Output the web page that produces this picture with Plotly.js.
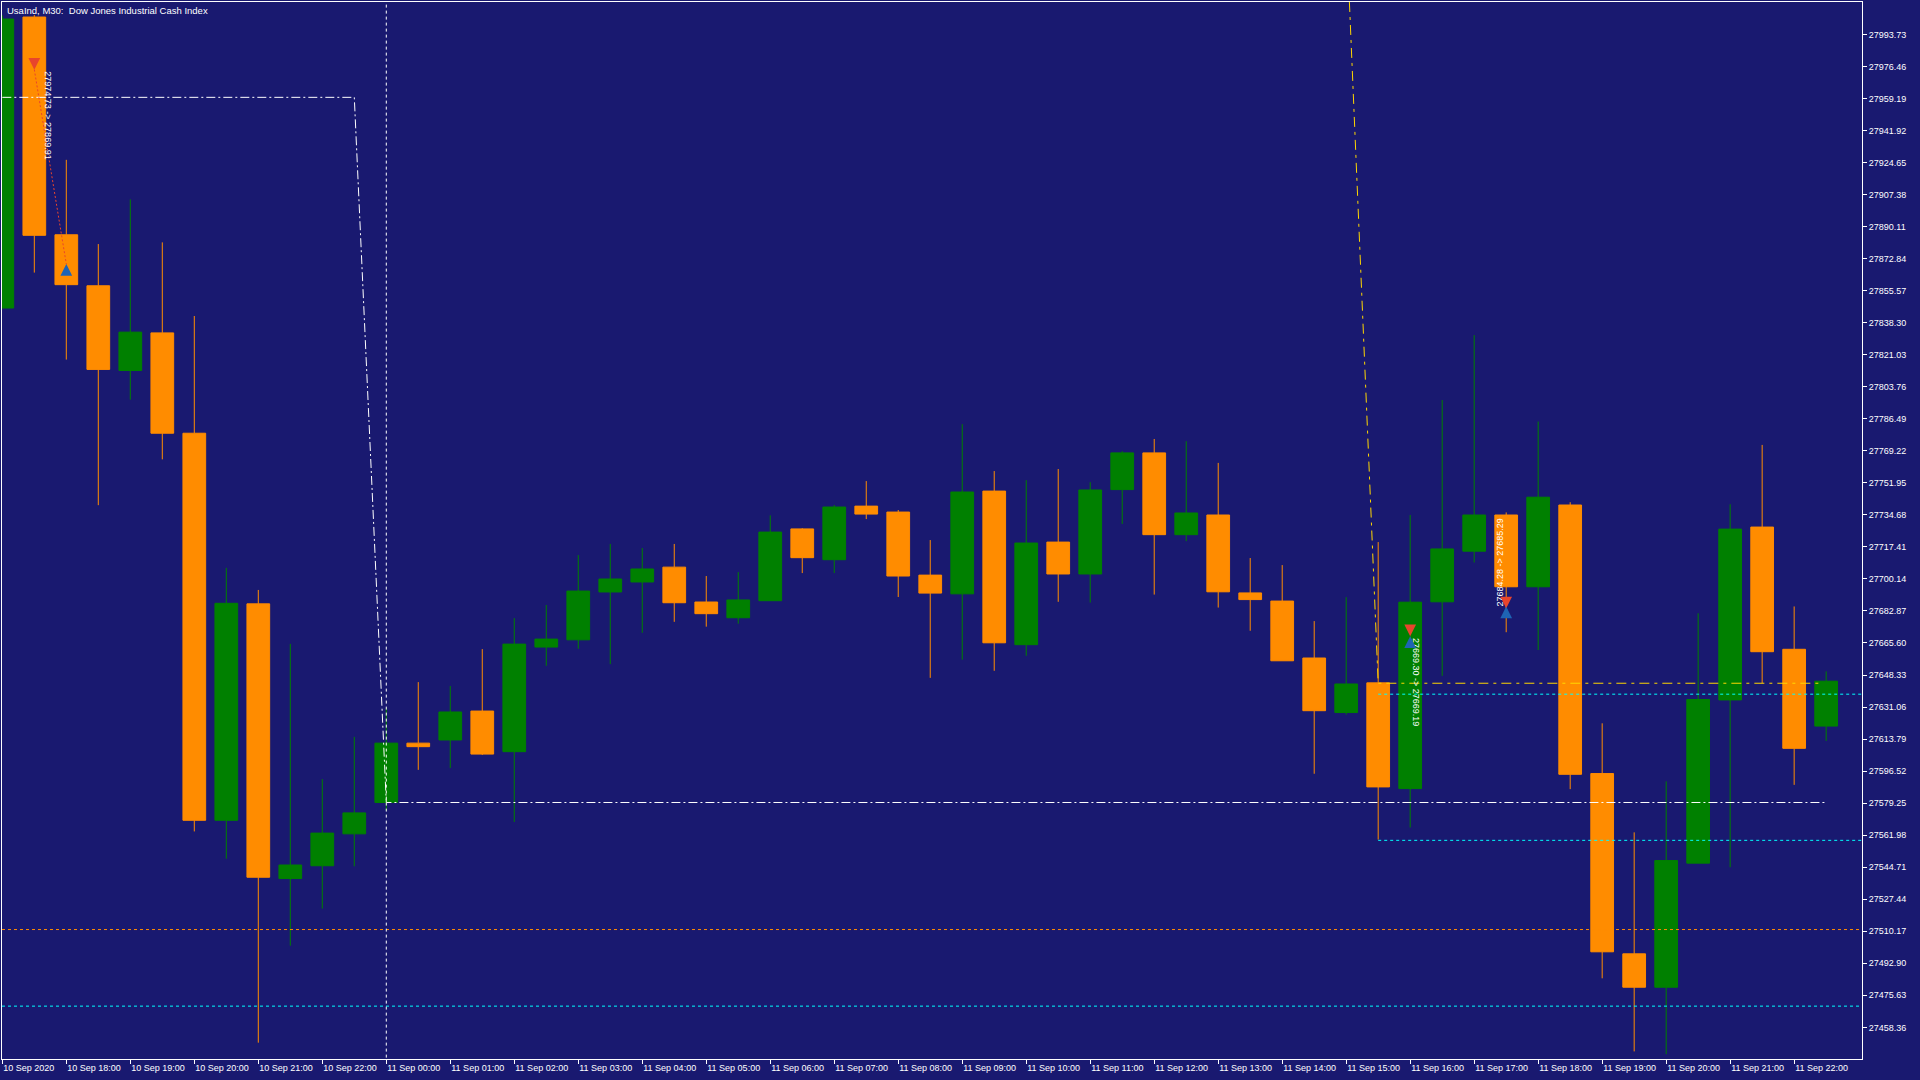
<!DOCTYPE html>
<html>
<head>
<meta charset="utf-8">
<script src="https://cdn.plot.ly/plotly-3.0.1.min.js"></script>
<style>
  html, body { margin: 0; padding: 0; background: #191970; }
  #chart { width: 1920px; height: 1080px; }
</style>
</head>
<body>
<div id="chart"></div>
<script>
// UsaInd M30: 58 barras, 10 Sep 17:00 -> 11 Sep 22:30 (hueco 23:00 por cierre diario)
const openP  = [27846.2, 28003.1, 27885.7, 27858.2, 27812.5, 27832.8, 27778.7, 27570.0, 27686.7, 27538.6,
                27545.5, 27562.7, 27579.6, 27611.6, 27613.3, 27628.9, 27607.0, 27663.4, 27667.3, 27693.1,
                27698.5, 27706.5, 27687.7, 27679.2, 27688.4, 27727.1, 27710.5, 27739.4, 27736.2, 27702.2,
                27692.1, 27747.5, 27664.7, 27720.0, 27702.8, 27748.3, 27768.1, 27724.0, 27734.6, 27692.6,
                27688.2, 27657.5, 27628.1, 27644.1, 27587.1, 27687.8, 27715.1, 27734.6, 27695.9, 27740.0,
                27595.2, 27498.0, 27480.0, 27546.9, 27634.9, 27728.1, 27662.2, 27620.8];
const highP  = [28004.0, 28004.2, 27926.1, 27880.7, 27904.8, 27881.6, 27841.9, 27706.1, 27694.2, 27665.1,
                27592.2, 27615.0, 27630.4, 27644.5, 27642.4, 27662.3, 27679.0, 27686.1, 27713.0, 27719.0,
                27716.8, 27719.0, 27701.7, 27703.8, 27734.4, 27727.5, 27740.0, 27752.9, 27737.3, 27721.1,
                27783.6, 27758.3, 27753.4, 27759.4, 27752.3, 27769.0, 27775.6, 27774.4, 27762.7, 27711.4,
                27707.6, 27677.4, 27690.3, 27720.0, 27734.6, 27796.6, 27831.6, 27736.0, 27785.0, 27741.5,
                27622.3, 27563.5, 27591.0, 27681.6, 27740.4, 27772.4, 27685.3, 27650.3];
const lowP   = [27846.2, 27865.3, 27818.4, 27739.9, 27796.8, 27764.6, 27564.0, 27549.3, 27450.1, 27502.4,
                27522.4, 27545.2, 27575.3, 27597.2, 27598.2, 27605.2, 27569.1, 27653.3, 27662.5, 27654.2,
                27671.1, 27677.0, 27674.4, 27676.0, 27688.4, 27703.3, 27703.3, 27732.4, 27690.4, 27646.8,
                27656.6, 27650.6, 27658.7, 27687.8, 27687.4, 27729.8, 27691.7, 27720.5, 27684.7, 27672.2,
                27656.0, 27595.1, 27627.0, 27559.6, 27566.1, 27647.9, 27709.0, 27671.4, 27661.8, 27586.8,
                27484.8, 27445.4, 27443.9, 27546.9, 27544.7, 27643.9, 27589.1, 27612.8];
const closeP = [28002.0, 27885.4, 27858.8, 27813.1, 27833.2, 27778.7, 27570.0, 27687.0, 27539.3, 27545.9,
                27563.1, 27574.0, 27611.6, 27609.7, 27628.4, 27605.7, 27665.0, 27667.7, 27693.6, 27700.1,
                27705.5, 27687.3, 27681.4, 27688.8, 27725.4, 27711.6, 27738.9, 27735.1, 27701.7, 27692.5,
                27747.0, 27665.7, 27719.5, 27702.8, 27748.1, 27768.1, 27724.0, 27735.7, 27693.2, 27689.0,
                27656.0, 27629.1, 27643.5, 27588.0, 27687.6, 27716.3, 27734.6, 27695.9, 27744.2, 27594.8,
                27499.1, 27480.0, 27548.3, 27635.1, 27727.0, 27660.9, 27608.8, 27645.0];

// etiquetas del eje de tiempo (una cada 2 barras)
const xTickText = ['10 Sep 2020', '10 Sep 18:00', '10 Sep 19:00', '10 Sep 20:00', '10 Sep 21:00', '10 Sep 22:00',
                   '11 Sep 00:00', '11 Sep 01:00', '11 Sep 02:00', '11 Sep 03:00', '11 Sep 04:00', '11 Sep 05:00',
                   '11 Sep 06:00', '11 Sep 07:00', '11 Sep 08:00', '11 Sep 09:00', '11 Sep 10:00', '11 Sep 11:00',
                   '11 Sep 12:00', '11 Sep 13:00', '11 Sep 14:00', '11 Sep 15:00', '11 Sep 16:00', '11 Sep 17:00',
                   '11 Sep 18:00', '11 Sep 19:00', '11 Sep 20:00', '11 Sep 21:00', '11 Sep 22:00'];
const yTickVals = [27458.36, 27475.63, 27492.90, 27510.17, 27527.44, 27544.71, 27561.98, 27579.25,
                   27596.52, 27613.79, 27631.06, 27648.33, 27665.60, 27682.87, 27700.14, 27717.41,
                   27734.68, 27751.95, 27769.22, 27786.49, 27803.76, 27821.03, 27838.30, 27855.57,
                   27872.84, 27890.11, 27907.38, 27924.65, 27941.92, 27959.19, 27976.46, 27993.73];

// operaciones (entrada -> salida)
const tradeOpenBar    = [1, 44, 47];
const tradeOpenPrice  = [27974.73, 27669.30, 27684.28];
const tradeCloseBar   = [2, 44, 47];
const tradeClosePrice = [27869.91, 27669.19, 27685.29];

// objetos del grafico
const stepLineX = [0, 11, 12, 57];
const stepLineY = [27959.8, 27959.8, 27579.6, 27579.6];
const goldLineX = [42.1, 43, 56.8];
const goldLineY = [28011.2, 27643.9, 27643.9];
const cyanLevels  = [27638.0, 27559.2, 27469.8];
const cyanStart   = [43, 43, -0.01];
const orangeLevel = 27511.1;
const daySepBar   = 12;

const X_MIN = -0.01, X_MAX = 58.12;
const BG = '#191970';
const BULL = '#008000', BEAR = '#FF8C00';
const SELL = '#E8452C', BUY = '#1E64B4';
const FONT = 'Liberation Sans';

const bars = openP.map((_, i) => i);

const traces = [];
traces.push({
  type: 'candlestick', x: bars, open: openP, high: highP, low: lowP, close: closeP,
  increasing: { line: { color: BULL, width: 1 }, fillcolor: BULL },
  decreasing: { line: { color: BEAR, width: 1 }, fillcolor: BEAR },
  whiskerwidth: 0, hoverinfo: 'skip'
});

const line = (x, y, color, dash) => ({
  type: 'scatter', mode: 'lines', x: x, y: y, hoverinfo: 'skip',
  line: { color: color, width: 1, dash: dash }
});

traces.push(line(stepLineX, stepLineY, '#FFFFFF', '9px,3px,2px,3px'));
traces.push(line(goldLineX, goldLineY, '#FFD700', '10px,5px,3px,5px'));
cyanLevels.forEach((lv, i) => traces.push(line([cyanStart[i], X_MAX], [lv, lv], '#00FFFF', '3px,3px')));
traces.push(line([X_MIN, X_MAX], [orangeLevel, orangeLevel], '#FF8C00', '3px,3px'));
traces.push(line([daySepBar, daySepBar], [27400, 28100], '#FFFFFF', '3px,3px'));

// linea punteada entre entrada y salida
tradeOpenBar.forEach((b, i) => {
  traces.push(line([b, tradeCloseBar[i]], [tradeOpenPrice[i], tradeClosePrice[i]], SELL, '2px,2px'));
});

// textos rotados de cada operacion
const textAngle = [90, 90, -90];
const textShift = [14, 6, -6];
const textAnchor = ['top', 'top', 'bottom'];
const annotations = tradeOpenBar.map((b, i) => ({
  x: b, y: tradeOpenPrice[i], xref: 'x', yref: 'y',
  text: tradeOpenPrice[i].toFixed(2) + ' -> ' + tradeClosePrice[i].toFixed(2),
  showarrow: false, textangle: textAngle[i], xanchor: 'center', yanchor: textAnchor[i],
  xshift: textShift[i], font: { family: FONT, size: 9, color: '#FFFFFF' }
}));

// flechas: entrada roja (hacia abajo), salida azul (hacia arriba)
const arrow = (x, y, color, ay) => ({
  x: x, y: y, xref: 'x', yref: 'y', text: '', showarrow: true,
  ax: 0, ay: ay, arrowhead: 2, arrowsize: 0.9, arrowwidth: 2.6, arrowcolor: color, standoff: 0
});
tradeOpenBar.forEach((b, i) => {
  annotations.push(arrow(b, tradeOpenPrice[i], SELL, -10));
  annotations.push(arrow(tradeCloseBar[i], tradeClosePrice[i], BUY, 10));
});

annotations.push({
  xref: 'paper', yref: 'paper', x: 0, y: 1, xanchor: 'left', yanchor: 'top', xshift: 3, yshift: -1,
  text: 'UsaInd, M30:\u00a0 Dow Jones Industrial Cash Index', showarrow: false,
  font: { family: FONT, size: 9.5, color: '#FFFFFF' }
});

const layout = {
  width: 1920, height: 1080,
  paper_bgcolor: BG, plot_bgcolor: BG,
  margin: { l: 2, r: 58, t: 2, b: 21 },
  showlegend: false,
  boxgap: 0.29, boxgroupgap: 0,
  xaxis: {
    range: [X_MIN, X_MAX], rangeslider: { visible: false },
    tickvals: xTickText.map((_, i) => i * 2), ticktext: xTickText,
    ticks: 'outside', ticklen: 4, tickcolor: '#FFFFFF', ticklabelposition: 'outside right',
    showgrid: false, zeroline: false,
    showline: true, mirror: true, linecolor: '#FFFFFF', linewidth: 1,
    tickfont: { family: FONT, size: 9, color: '#FFFFFF' }
  },
  yaxis: {
    side: 'right', range: [27441.3, 28011.2],
    tickvals: yTickVals, tickformat: '.2f',
    ticks: 'outside', ticklen: 4, tickcolor: '#FFFFFF',
    showgrid: false, zeroline: false,
    showline: true, mirror: true, linecolor: '#FFFFFF', linewidth: 1,
    tickfont: { family: FONT, size: 9, color: '#FFFFFF' }
  },
  annotations: annotations
};

Plotly.newPlot('chart', traces, layout, { staticPlot: true, displayModeBar: false });
</script>
</body>
</html>
